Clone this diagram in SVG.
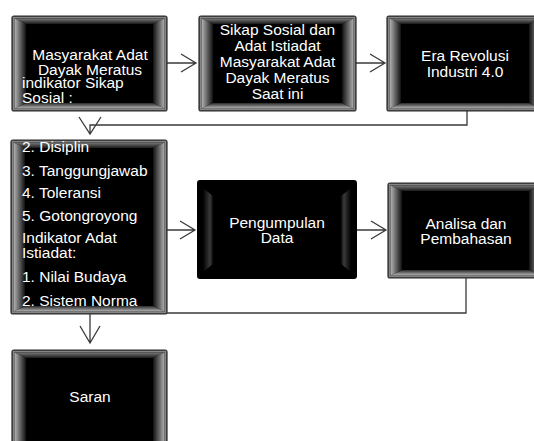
<svg xmlns="http://www.w3.org/2000/svg" width="534" height="441" viewBox="0 0 534 441">
<style>
.t{fill:#fff;font-family:"Liberation Sans",Arial,sans-serif;font-size:15.5px}
.c{text-anchor:middle}
.ln{fill:none;stroke:#3a3a3a;stroke-width:1.3}
.out{fill:#111;stroke:#2a2a2a;stroke-width:1.2}
.ring{fill:none;stroke:#858585;stroke-width:1.6}
.core{fill:#000}
</style>
<defs>
<linearGradient id="bevL" x1="0" y1="0" x2="1" y2="0"><stop offset="0" stop-color="#b5b5b5"/><stop offset="0.45" stop-color="#6a6a6a"/><stop offset="1" stop-color="#111"/></linearGradient>
<linearGradient id="bevR" x1="0" y1="0" x2="1" y2="0"><stop offset="0" stop-color="#111"/><stop offset="0.55" stop-color="#666"/><stop offset="1" stop-color="#b0b0b0"/></linearGradient>
<linearGradient id="bevT" x1="0" y1="0" x2="0" y2="1"><stop offset="0" stop-color="#7a7a7a"/><stop offset="1" stop-color="#1a1a1a"/></linearGradient>
<linearGradient id="bevB" x1="0" y1="0" x2="0" y2="1"><stop offset="0" stop-color="#2a2a2a"/><stop offset="1" stop-color="#b8b8b8"/></linearGradient>
<linearGradient id="soft" x1="0" y1="0" x2="1" y2="0"><stop offset="0" stop-color="#000"/><stop offset="0.7" stop-color="#3a3a3a"/><stop offset="1" stop-color="#0a0a0a"/></linearGradient>
<linearGradient id="softR" x1="0" y1="0" x2="1" y2="0"><stop offset="0" stop-color="#0a0a0a"/><stop offset="0.3" stop-color="#3a3a3a"/><stop offset="1" stop-color="#000"/></linearGradient>
</defs>

<g id="connectors">
<path class="ln" d="M167,63 H196 M181,54 L196,63 L181,72"/>
<path class="ln" d="M356,63 H385 M370,54 L385,63 L370,72"/>
<path class="ln" d="M467,111 V125 H90 V134 M79,117 L90,134 L101,117"/>
<path class="ln" d="M167,230 H195 M180,221 L195,230 L180,239"/>
<path class="ln" d="M357,230 H386 M371,221 L386,230 L371,239"/>
<path class="ln" d="M466,278 V313 H167"/>
<path class="ln" d="M90,314 V343 M80,326 L90,343 L100,326"/>
</g>

<g id="n1">
<rect class="out" x="12" y="16" width="155" height="95" rx="2"/>
<rect class="ring" x="13.5" y="17.5" width="152" height="92"/>
<polygon fill="url(#bevT)" points="14.5,18.5 164.5,18.5 153,24 26,24"/>
<polygon fill="url(#bevB)" points="14.5,108.5 164.5,108.5 153,103 26,103"/>
<polygon fill="url(#bevL)" points="14.5,18.5 26,24 26,103 14.5,108.5"/>
<polygon fill="url(#bevR)" points="164.5,18.5 153,24 153,103 164.5,108.5"/>
<rect class="core" x="26" y="24" width="127" height="79"/>
<text class="t c" x="90" y="60">Masyarakat Adat</text>
<text class="t c" x="90" y="75">Dayak Meratus</text>
<text class="t" x="22" y="88">indikator  Sikap</text>
<text class="t" x="22" y="103">Sosial :</text>
</g>

<g id="n2">
<rect class="out" x="199" y="16" width="157" height="95" rx="2"/>
<rect class="ring" x="200.5" y="17.5" width="154" height="92"/>
<polygon fill="url(#bevT)" points="201.5,18.5 353.5,18.5 342,24 213,24"/>
<polygon fill="url(#bevB)" points="201.5,108.5 353.5,108.5 342,103 213,103"/>
<polygon fill="url(#bevL)" points="201.5,18.5 213,24 213,103 201.5,108.5"/>
<polygon fill="url(#bevR)" points="353.5,18.5 342,24 342,103 353.5,108.5"/>
<rect class="core" x="213" y="24" width="129" height="79"/>
<text class="t c" x="277.5" y="35">Sikap Sosial dan</text>
<text class="t c" x="277.5" y="51">Adat Istiadat</text>
<text class="t c" x="277.5" y="67">Masyarakat Adat</text>
<text class="t c" x="277.5" y="83">Dayak Meratus</text>
<text class="t c" x="277.5" y="99">Saat ini</text>
</g>

<g id="n3">
<rect class="out" x="387" y="16" width="156" height="95" rx="2"/>
<rect class="ring" x="388.5" y="17.5" width="153" height="92"/>
<polygon fill="url(#bevT)" points="389.5,18.5 540.5,18.5 529,24 401,24"/>
<polygon fill="url(#bevB)" points="389.5,108.5 540.5,108.5 529,103 401,103"/>
<polygon fill="url(#bevL)" points="389.5,18.5 401,24 401,103 389.5,108.5"/>
<polygon fill="url(#bevR)" points="540.5,18.5 529,24 529,103 540.5,108.5"/>
<rect class="core" x="401" y="24" width="128" height="79"/>
<text class="t c" x="465" y="61">Era Revolusi</text>
<text class="t c" x="465" y="77">Industri 4.0</text>
</g>

<g id="n4">
<rect class="out" x="11" y="140" width="156" height="174" rx="2"/>
<rect class="ring" x="12.5" y="141.5" width="153" height="171"/>
<polygon fill="url(#bevT)" points="13.5,142.5 164.5,142.5 153,148 25,148"/>
<polygon fill="url(#bevB)" points="13.5,311.5 164.5,311.5 153,306 25,306"/>
<polygon fill="url(#bevL)" points="13.5,142.5 25,148 25,306 13.5,311.5"/>
<polygon fill="url(#bevR)" points="164.5,142.5 153,148 153,306 164.5,311.5"/>
<rect class="core" x="25" y="148" width="128" height="158"/>
<text class="t" x="22" y="152">2. Disiplin</text>
<text class="t" x="22" y="175.5">3. Tanggungjawab</text>
<text class="t" x="22" y="198">4. Toleransi</text>
<text class="t" x="22" y="221">5. Gotongroyong</text>
<text class="t" x="22" y="243">Indikator Adat</text>
<text class="t" x="22" y="258">Istiadat:</text>
<text class="t" x="22" y="281.5">1. Nilai Budaya</text>
<text class="t" x="22" y="306">2. Sistem Norma</text>
</g>

<g id="n5">
<rect x="197" y="180" width="160" height="99" rx="3" fill="#000"/>
<polygon fill="url(#soft)" points="203,188 213,196 213,264 203,272"/>
<polygon fill="url(#softR)" points="351,188 341,196 341,264 351,272"/>
<text class="t c" x="277" y="228">Pengumpulan</text>
<text class="t c" x="277" y="243">Data</text>
</g>

<g id="n6">
<rect class="out" x="388" y="183" width="155" height="95" rx="2"/>
<rect class="ring" x="389.5" y="184.5" width="152" height="92"/>
<polygon fill="url(#bevT)" points="390.5,185.5 540.5,185.5 529,191 402,191"/>
<polygon fill="url(#bevB)" points="390.5,275.5 540.5,275.5 529,270 402,270"/>
<polygon fill="url(#bevL)" points="390.5,185.5 402,191 402,270 390.5,275.5"/>
<polygon fill="url(#bevR)" points="540.5,185.5 529,191 529,270 540.5,275.5"/>
<rect class="core" x="402" y="191" width="127" height="79"/>
<text class="t c" x="466" y="229">Analisa dan</text>
<text class="t c" x="466" y="244">Pembahasan</text>
</g>

<g id="n7">
<rect class="out" x="12" y="350" width="155" height="100" rx="2"/>
<rect class="ring" x="13.5" y="351.5" width="152" height="97"/>
<polygon fill="url(#bevT)" points="14.5,352.5 164.5,352.5 153,358 26,358"/>
<polygon fill="url(#bevL)" points="14.5,352.5 26,358 26,446 14.5,447.5"/>
<polygon fill="url(#bevR)" points="164.5,352.5 153,358 153,446 164.5,447.5"/>
<rect class="core" x="26" y="358" width="127" height="88"/>
<text class="t c" x="90" y="402">Saran</text>
</g>
</svg>
